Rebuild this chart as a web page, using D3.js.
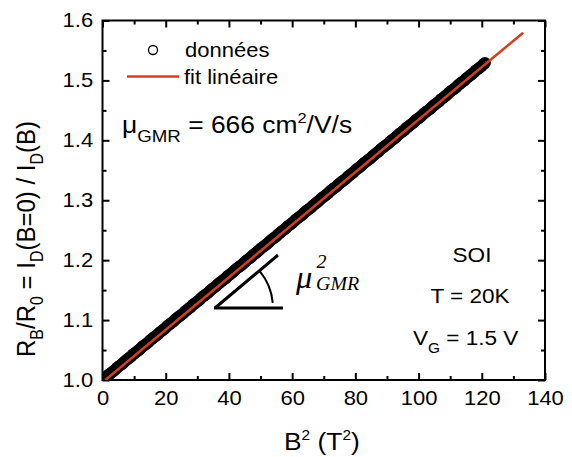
<!DOCTYPE html>
<html><head><meta charset="utf-8">
<script src="https://cdn.jsdelivr.net/npm/d3@7"></script>
<style>
html,body{margin:0;padding:0;background:#fff;}
svg text{font-family:"Liberation Sans",Arial,sans-serif;fill:#000;}
</style></head>
<body>
<svg id="chart" width="572" height="457"></svg>
<script>
// ---- data ----
const fieldSq = [0,0.5,1,1.5,2,2.5,3,3.5,4,4.5,5,5.5,6,6.5,7,7.5,8,8.5,9,9.5,10,10.5,11,11.5,12,12.5,13,13.5,14,14.5,15,15.5,16,16.5,17,17.5,18,18.5,19,19.5,20,20.5,21,21.5,22,22.5,23,23.5,24,24.5,25,25.5,26,26.5,27,27.5,28,28.5,29,29.5,30,30.5,31,31.5,32,32.5,33,33.5,34,34.5,35,35.5,36,36.5,37,37.5,38,38.5,39,39.5,40,40.5,41,41.5,42,42.5,43,43.5,44,44.5,45,45.5,46,46.5,47,47.5,48,48.5,49,49.5,50,50.5,51,51.5,52,52.5,53,53.5,54,54.5,55,55.5,56,56.5,57,57.5,58,58.5,59,59.5,60,60.5,61,61.5,62,62.5,63,63.5,64,64.5,65,65.5,66,66.5,67,67.5,68,68.5,69,69.5,70,70.5,71,71.5,72,72.5,73,73.5,74,74.5,75,75.5,76,76.5,77,77.5,78,78.5,79,79.5,80,80.5,81,81.5,82,82.5,83,83.5,84,84.5,85,85.5,86,86.5,87,87.5,88,88.5,89,89.5,90,90.5,91,91.5,92,92.5,93,93.5,94,94.5,95,95.5,96,96.5,97,97.5,98,98.5,99,99.5,100,100.5,101,101.5,102,102.5,103,103.5,104,104.5,105,105.5,106,106.5,107,107.5,108,108.5,109,109.5,110,110.5,111,111.5,112,112.5,113,113.5,114,114.5,115,115.5,116,116.5,117,117.5,118,118.5,119,119.5,120,120.5,121];
const ratio = [1.000,1.002,1.004,1.007,1.009,1.011,1.013,1.015,1.017,1.020,1.022,1.024,1.026,1.028,1.031,1.033,1.035,1.037,1.039,1.042,1.044,1.046,1.048,1.050,1.052,1.055,1.057,1.059,1.061,1.063,1.066,1.068,1.070,1.072,1.074,1.076,1.079,1.081,1.083,1.085,1.087,1.090,1.092,1.094,1.096,1.098,1.101,1.103,1.105,1.107,1.109,1.111,1.114,1.116,1.118,1.120,1.122,1.125,1.127,1.129,1.131,1.133,1.135,1.138,1.140,1.142,1.144,1.146,1.149,1.151,1.153,1.155,1.157,1.160,1.162,1.164,1.166,1.168,1.170,1.173,1.175,1.177,1.179,1.181,1.184,1.186,1.188,1.190,1.192,1.194,1.197,1.199,1.201,1.203,1.205,1.208,1.210,1.212,1.214,1.216,1.219,1.221,1.223,1.225,1.227,1.229,1.232,1.234,1.236,1.238,1.240,1.243,1.245,1.247,1.249,1.251,1.253,1.256,1.258,1.260,1.262,1.264,1.267,1.269,1.271,1.273,1.275,1.277,1.280,1.282,1.284,1.286,1.288,1.291,1.293,1.295,1.297,1.299,1.302,1.304,1.306,1.308,1.310,1.312,1.315,1.317,1.319,1.321,1.323,1.326,1.328,1.330,1.332,1.334,1.336,1.339,1.341,1.343,1.345,1.347,1.350,1.352,1.354,1.356,1.358,1.361,1.363,1.365,1.367,1.369,1.371,1.374,1.376,1.378,1.380,1.382,1.385,1.387,1.389,1.391,1.393,1.395,1.398,1.400,1.402,1.404,1.406,1.409,1.411,1.413,1.415,1.417,1.420,1.422,1.424,1.426,1.428,1.430,1.433,1.435,1.437,1.439,1.441,1.444,1.446,1.448,1.450,1.452,1.454,1.457,1.459,1.461,1.463,1.465,1.468,1.470,1.472,1.474,1.476,1.479,1.481,1.483,1.485,1.487,1.489,1.492,1.494,1.496,1.498,1.500,1.503,1.505,1.507,1.509,1.511,1.513,1.516,1.518,1.520,1.522,1.524,1.527,1.529];
// linear fit endpoints (B^2, R_B/R_0)
const fitX = [0.9, 133.1];
const fitY = [1.000, 1.5795];
const xTicks = [0,20,40,60,80,100,120,140];
const xMinor = [10,30,50,70,90,110,130];
const yTicks = [1.0,1.1,1.2,1.3,1.4,1.5,1.6];
const yMinor = [1.05,1.15,1.25,1.35,1.45,1.55];
const legendLabels = ["données","fit linéaire"];

const RED = "#d2401a";
const SX = 1.1; // horizontal stretch of the original figure's text
const svg = d3.select("#chart");
const L = 102.5, R = 545, T = 20.5, B = 380;
const x = d3.scaleLinear().domain([0,140]).range([L,R]);
const y = d3.scaleLinear().domain([1.0,1.6]).range([B,T]);

function styleAxis(g, hideLabels){
  g.select(".domain").remove();
  g.selectAll(".tick line").attr("stroke","#000").attr("stroke-width",2);
  g.selectAll(".tick text").style("font-size","20px").attr("fill","#000").attr("transform",`scale(${SX},1)`);
  if (hideLabels) g.selectAll(".tick text").remove();
}
// bottom
svg.append("g").attr("transform",`translate(0,${B})`)
  .call(d3.axisBottom(x).tickValues(xTicks).tickSize(-7).tickPadding(11).tickFormat(d3.format("d")))
  .call(g=>styleAxis(g,false));
svg.append("g").attr("transform",`translate(0,${B})`)
  .call(d3.axisBottom(x).tickValues(xMinor).tickSize(-4)).call(g=>styleAxis(g,true));
// top
svg.append("g").attr("transform",`translate(0,${T})`)
  .call(d3.axisTop(x).tickValues(xTicks).tickSize(-7)).call(g=>styleAxis(g,true));
svg.append("g").attr("transform",`translate(0,${T})`)
  .call(d3.axisTop(x).tickValues(xMinor).tickSize(-4)).call(g=>styleAxis(g,true));
// left
svg.append("g").attr("transform",`translate(${L},0)`)
  .call(d3.axisLeft(y).tickValues(yTicks).tickSize(-7).tickPadding(8.5).tickFormat(d3.format(".1f")))
  .call(g=>styleAxis(g,false));
svg.append("g").attr("transform",`translate(${L},0)`)
  .call(d3.axisLeft(y).tickValues(yMinor).tickSize(-4)).call(g=>styleAxis(g,true));
// right
svg.append("g").attr("transform",`translate(${R},0)`)
  .call(d3.axisRight(y).tickValues(yTicks).tickSize(-7)).call(g=>styleAxis(g,true));
svg.append("g").attr("transform",`translate(${R},0)`)
  .call(d3.axisRight(y).tickValues(yMinor).tickSize(-4)).call(g=>styleAxis(g,true));

// frame
svg.append("rect").attr("x",L).attr("y",T).attr("width",R-L).attr("height",B-T)
  .attr("fill","none").attr("stroke","#000").attr("stroke-width",2);

// data
svg.append("clipPath").attr("id","clip").append("rect")
  .attr("x",L).attr("y",T).attr("width",R-L).attr("height",B-T);
const plot = svg.append("g").attr("clip-path","url(#clip)");
plot.selectAll("circle.pt").data(fieldSq).join("circle").attr("class","pt")
  .attr("cx",(d)=>x(d)).attr("cy",(d,i)=>y(ratio[i])).attr("r",4.8)
  .attr("fill","none").attr("stroke","#000").attr("stroke-width",2.4);
plot.append("line").attr("x1",x(fitX[0])).attr("y1",y(fitY[0])).attr("x2",x(fitX[1])).attr("y2",y(fitY[1]))
  .attr("stroke",RED).attr("stroke-width",2.5);

// rich text helper (parts: [text, kind, shift, size])
function rich(g, parts, fs){
  const t = g.append("text").style("font-size",fs+"px");
  let shift = 0;
  parts.forEach(p=>{
    const kind = p[1]||"n";
    let target = 0, size = fs;
    if (kind==="sub"){ target = p[2]; size = p[3]; }
    if (kind==="sup"){ target = p[2]; size = p[3]; }
    t.append("tspan").attr("dy",target-shift).style("font-size",size+"px").text(p[0]);
    shift = target;
  });
  return t;
}
function stext(px, py, str, fs, anchor){
  return svg.append("g").attr("transform",`translate(${px},${py}) scale(${SX},1)`)
    .append("text").attr("text-anchor",anchor||"start").style("font-size",fs+"px").text(str);
}

// legend
svg.append("circle").attr("cx",153).attr("cy",50).attr("r",4.5)
  .attr("fill","none").attr("stroke","#000").attr("stroke-width",1.3);
stext(185,56.5,legendLabels[0],20);
svg.append("line").attr("x1",127).attr("x2",179).attr("y1",76.5).attr("y2",76.5)
  .attr("stroke",RED).attr("stroke-width",2.5);
stext(184,83.5,legendLabels[1],20);

// mobility
rich(svg.append("g").attr("transform",`translate(122,133) scale(${SX},1)`),
  [["μ"],["GMR","sub",8.5,17],[" = 666 cm","n"],["2","sup",-10,15],["/V/s"]],24);

// right annotations
stext(472,262,"SOI",20.5,"middle");
stext(470,303,"T = 20K",20.5,"middle");
rich(svg.append("g").attr("transform",`translate(413,345) scale(${SX},1)`),
  [["V"],["G","sub",8,14],[" = 1.5 V"]],20.5);

// slope triangle
const ax0 = 215, ay0 = 308;
svg.append("line").attr("x1",ax0-1).attr("y1",ay0).attr("x2",283).attr("y2",ay0).attr("stroke","#000").attr("stroke-width",3);
svg.append("line").attr("x1",ax0).attr("y1",ay0).attr("x2",278).attr("y2",255).attr("stroke","#000").attr("stroke-width",3);
svg.append("path").attr("transform",`translate(${ax0},${ay0})`)
  .attr("d",d3.arc()({innerRadius:57,outerRadius:59,startAngle:Math.PI/2-0.69,endAngle:Math.PI/2-0.09}))
  .attr("fill","#000");
const mu = svg.append("g").attr("transform",`translate(296,288) scale(1.05,1)`).append("text")
  .style("font-family","'Liberation Serif','Times New Roman',serif").style("font-style","italic").style("font-size","31px");
mu.append("tspan").text("μ");
mu.append("tspan").attr("dy",-20).attr("dx",4).style("font-size","19px").text("2");
mu.append("tspan").attr("dy",22).attr("dx",-10).style("font-size","19px").text("GMR");

// axis titles
rich(svg.append("g").attr("transform",`translate(284,450) scale(${SX},1)`),
  [["B"],["2","sup",-10,14],[" (T"],["2","sup",-10,14],[")"]],24);
rich(svg.append("g").attr("transform",`translate(35,357) scale(${SX},1) rotate(-90)`),
  [["R"],["B","sub",7,16],["/R"],["0","sub",7,16],[" = I"],["D","sub",7,16],["(B=0) / I"],["D","sub",7,16],["(B)"]],24);
</script>
</body></html>
